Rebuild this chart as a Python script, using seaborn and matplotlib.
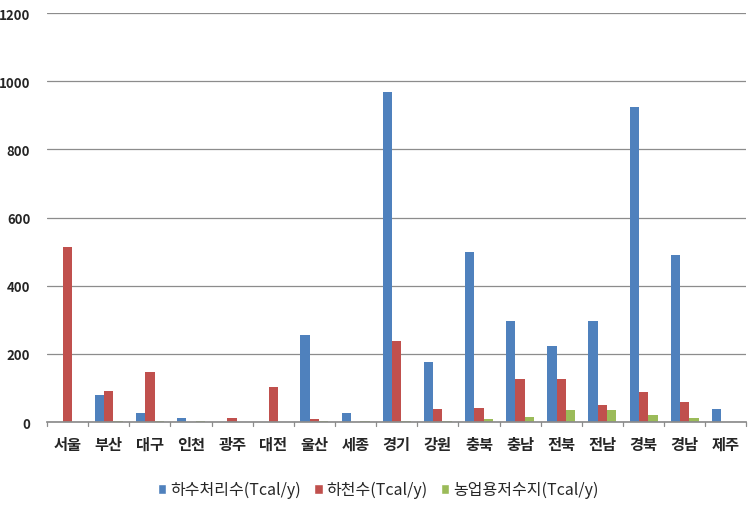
import matplotlib
matplotlib.use("Agg")
import matplotlib.pyplot as plt
import seaborn as sns
import pandas as pd
from matplotlib.patches import Patch

regions = ["서울", "부산", "대구", "인천", "광주", "대전", "울산", "세종", "경기",
           "강원", "충북", "충남", "전북", "전남", "경북", "경남", "제주"]
sewage = [0, 80, 27, 12, 0, 0, 255, 26, 968, 176, 498, 296, 224, 296, 926, 490, 38]
river = [513, 91, 147, 0, 12, 103, 8, 0, 237, 38, 42, 126, 126, 50, 87, 58, 0]
reservoir = [0, 3, 3, 3, 0, 0, 4, 3, 4, 3, 8, 15, 34, 34, 20, 12, 0]
series_names = ["하수처리수(Tcal/y)", "하천수(Tcal/y)", "농업용저수지(Tcal/y)"]
colors = ["#4F81BD", "#C0504D", "#9BBB59"]

rows = []
for name, vals in zip(series_names, [sewage, river, reservoir]):
    for r, v in zip(regions, vals):
        rows.append({"region": r, "series": name, "value": v})
df = pd.DataFrame(rows)

sns.set_theme(style="white")
plt.rcParams["font.family"] = ["Noto Sans CJK KR", "DejaVu Sans"]

fig = plt.figure(figsize=(7.52, 5.06), dpi=100)
ax = fig.add_axes([0.0625, 0.164, 0.93, 0.808])

sns.barplot(data=df, x="region", y="value", hue="series", order=regions,
            hue_order=series_names, palette=colors, width=0.68,
            saturation=1, ax=ax, legend=False, linewidth=0, edgecolor="none")

ax.set_ylim(0, 1200)
ax.set_xlim(-0.5, len(regions) - 0.5)
ax.set_yticks(range(0, 1201, 200))
ax.yaxis.grid(True, color="#8c8c8c", linewidth=0.9)
ax.set_axisbelow(True)
for s in ["top", "right", "left"]:
    ax.spines[s].set_visible(False)
ax.spines["bottom"].set_color("#8c8c8c")
ax.set_xlabel("")
ax.set_ylabel("")
ax.tick_params(axis="y", length=0, labelsize=9.5, pad=12)
ax.tick_params(axis="x", length=0, labelsize=11, pad=10)
for lbl in ax.get_yticklabels():
    lbl.set_fontweight("bold")
for lbl in ax.get_xticklabels():
    lbl.set_fontweight("bold")
# category separator ticks
for i in range(len(regions) + 1):
    ax.plot([i - 0.5, i - 0.5], [0, -12], color="#8c8c8c", lw=0.9,
            clip_on=False)

handles = [Patch(facecolor=c, label=n) for c, n in zip(colors, series_names)]
fig.legend(handles=handles, loc="center", bbox_to_anchor=(0.503, 0.03),
           ncol=3, frameon=False, fontsize=11.5, handlelength=0.55,
           handleheight=0.55, handletextpad=0.25, columnspacing=0.8)

fig.savefig("out.png", dpi=100)
